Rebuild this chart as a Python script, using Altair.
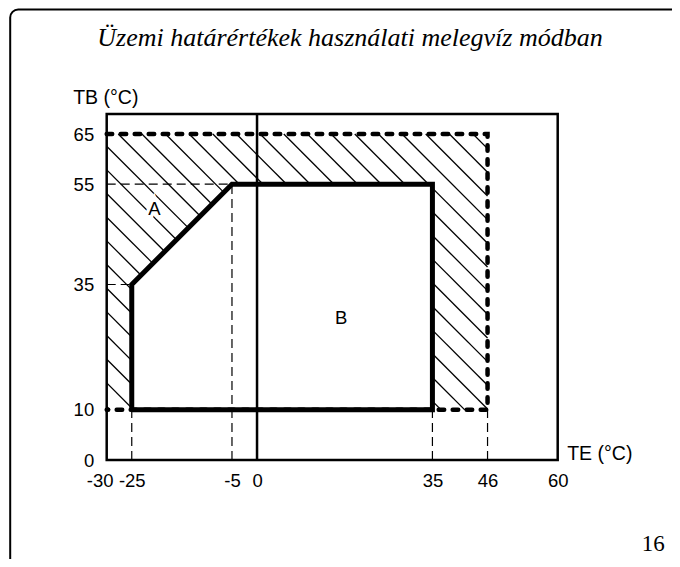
import altair as alt
import pandas as pd

# ---------------- data ----------------
title_text = "Üzemi határértékek használati melegvíz módban"
page_number = "16"

x_ticks = [-30, -25, -5, 0, 35, 46, 60]
y_ticks = [0, 10, 35, 55, 65]
x_domain = [-30, 60]
y_domain = [0, 69]

# operating envelope B (solid thick polygon)
env_te = [-25, -25, -5, 35, 35, -25]
env_tb = [10, 35, 55, 55, 10, 10]

# outer limit (thick dashed line)
lim_te = [-30, 46, 46, -30]
lim_tb = [65, 65, 10, 10]

# thin dashed guide lines: (te1, tb1, te2, tb2)
guide_te1 = [-30, -30, -25, -5, 35, 46]
guide_tb1 = [55, 35, 0, 0, 0, 0]
guide_te2 = [-5, -25, -25, -5, 35, 46]
guide_tb2 = [55, 35, 10, 55, 10, 10]

# zero line
zero_te = [0]

# area labels
area_labels = ["A", "B"]
area_te = [-20.5, 16.8]
area_tb = [50, 28.3]

# hatch pattern of zone A (lines te + tb = c)
hatch_phase = 37.3
hatch_step = 4.72

# ---------------- build tables ----------------
env_df = pd.DataFrame({"te": env_te, "tb": env_tb, "o": range(len(env_te))})
lim_df = pd.DataFrame({"te": lim_te, "tb": lim_tb, "o": range(len(lim_te))})

g_rows = []
for i in range(len(guide_te1)):
    g_rows.append({"te": guide_te1[i], "tb": guide_tb1[i], "g": i, "o": 0})
    g_rows.append({"te": guide_te2[i], "tb": guide_tb2[i], "g": i, "o": 1})
guide_df = pd.DataFrame(g_rows)

# hatch segments clipped to outer rectangle minus envelope B
rx0, rx1 = min(lim_te), max(lim_te)
ry0, ry1 = min(lim_tb), max(lim_tb)
bx0, bx1 = min(env_te), max(env_te)
by0, by1 = min(env_tb), max(env_tb)
cmin, cmax = rx0 + ry0, rx1 + ry1
cs = []
c = hatch_phase
while c > cmin:
    c -= hatch_step
while c < cmax:
    if c > cmin:
        cs.append(c)
    c += hatch_step
h_rows = []
gid = 0
slope_off = env_tb[1] - env_te[1]  # diagonal edge of B: tb <= te + 60
for c in cs:
    a0 = max(rx0, c - ry1)
    a1 = min(rx1, c - ry0)
    if a1 <= a0:
        continue
    b0 = max(bx0, c - by1, (c - slope_off) / 2.0)
    b1 = min(bx1, c - by0)
    pieces = []
    if b1 <= b0 or b1 <= a0 or b0 >= a1:
        pieces.append((a0, a1))
    else:
        if b0 > a0:
            pieces.append((a0, b0))
        if b1 < a1:
            pieces.append((b1, a1))
    for p0, p1 in pieces:
        if p1 - p0 < 0.05:
            continue
        h_rows.append({"te": p0, "tb": c - p0, "g": gid, "o": 0})
        h_rows.append({"te": p1, "tb": c - p1, "g": gid, "o": 1})
        gid += 1
hatch_df = pd.DataFrame(h_rows)

zero_df = pd.DataFrame({"te": zero_te})
label_df = pd.DataFrame({"te": area_te, "tb": area_tb, "label": area_labels})
page_df = pd.DataFrame({"label": [page_number]})
title_df = pd.DataFrame({"label": [title_text]})
frame_df = pd.DataFrame({"k": [0]})

# ---------------- scales / axes ----------------
lab_font = "Liberation Sans"
x_scale = alt.Scale(domain=x_domain, nice=False, zero=False)
y_scale = alt.Scale(domain=y_domain, nice=False, zero=False)

x_axis = alt.Axis(
    values=x_ticks, title="TE (°C)", domain=False, ticks=False, grid=False,
    labelExpr="'' + datum.value",
    labelFont=lab_font, labelFontSize=18.5, labelColor="black",
    labelPadding=11, labelFlush=False, labelOverlap=False, labelBound=False,
    labelOffset={"condition": {"test": "datum.value == -30", "value": -7}, "value": 0},
    titleFont=lab_font, titleFontSize=19.5, titleFontWeight="normal", titleColor="black",
    titleAngle=0, titleAlign="left", titleBaseline="alphabetic",
    titleX=460, titleY=-1, titleAnchor="start",
)
y_axis = alt.Axis(
    values=y_ticks, title="TB (°C)", domain=False, ticks=False, grid=False,
    labelExpr="'' + datum.value",
    labelFont=lab_font, labelFontSize=18.5, labelColor="black",
    labelPadding=13, labelFlush=False, labelOverlap=False, labelBound=False,
    titleFont=lab_font, titleFontSize=19.5, titleFontWeight="normal", titleColor="black",
    titleAngle=0, titleAlign="left", titleBaseline="alphabetic",
    titleX=-34, titleY=-11, titleAnchor="start",
)

X = alt.X("te:Q", scale=x_scale, axis=x_axis)
Y = alt.Y("tb:Q", scale=y_scale, axis=y_axis)
Xn = alt.X("te:Q", scale=x_scale)
Yn = alt.Y("tb:Q", scale=y_scale)

frame = alt.Chart(frame_df).mark_rect(
    fill="white", fillOpacity=0, stroke="black", strokeWidth=2, cornerRadius=8
).encode(x=alt.value(-96.5), x2=alt.value(720), y=alt.value(-104.5), y2=alt.value(620))

title_mark = alt.Chart(title_df).mark_text(
    font="Liberation Serif", fontStyle="italic", fontSize=26, color="black",
    align="center", baseline="alphabetic"
).encode(x=alt.value(243.3), y=alt.value(-68.5), text="label:N")

hatch = alt.Chart(hatch_df).mark_line(color="black", strokeWidth=1.3).encode(
    x=X, y=Y, detail="g:N", order="o:Q"
)

guides = alt.Chart(guide_df).mark_line(color="black", strokeWidth=1.2, strokeDash=[9, 5]).encode(
    x=Xn, y=Yn, detail="g:N", order="o:Q"
)

zero_line = alt.Chart(zero_df).mark_rule(color="black", strokeWidth=2.5).encode(x=Xn)

limit = alt.Chart(lim_df).mark_line(
    color="black", strokeWidth=4.5, strokeDash=[5.5, 8.5], strokeCap="round"
).encode(x=Xn, y=Yn, order="o:Q")

envelope = alt.Chart(env_df).mark_line(
    color="black", strokeWidth=5, strokeJoin="miter"
).encode(x=Xn, y=Yn, order="o:Q")

label_halo = alt.Chart(label_df).mark_text(
    font=lab_font, fontSize=18.5, color="white", stroke="white", strokeWidth=7
).encode(x=Xn, y=Yn, text="label:N")
label_txt = alt.Chart(label_df).mark_text(
    font=lab_font, fontSize=18.5, color="black"
).encode(x=Xn, y=Yn, text="label:N")

page = alt.Chart(page_df).mark_text(
    font="Liberation Serif", fontSize=23, color="black", align="right", baseline="alphabetic"
).encode(x=alt.value(558), y=alt.value(437), text="label:N")

chart = alt.layer(
    frame, title_mark, hatch, guides, zero_line, limit, envelope, label_halo, label_txt, page
).properties(
    width=451,
    height=346,
    background="white",
    autosize=alt.AutoSizeParams(type="none"),
    padding={"left": 98.7, "top": 106, "right": 114.3, "bottom": 99},
).configure_view(stroke="black", strokeWidth=2.5)

chart.save("out.html", embed_options={"renderer": "svg", "actions": False})
